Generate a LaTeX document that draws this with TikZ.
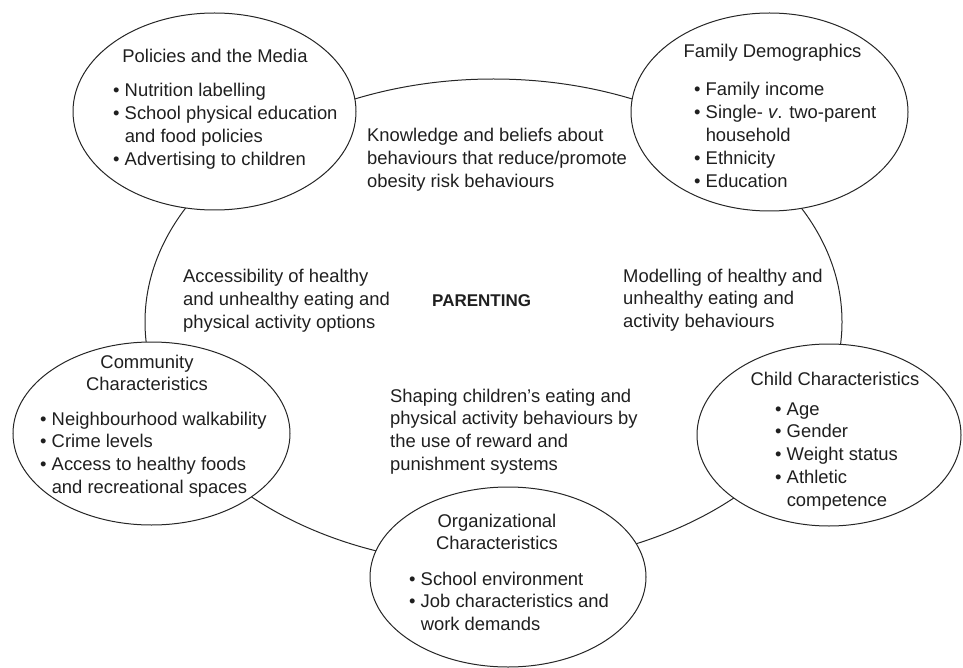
\documentclass[tikz,border=0pt]{standalone}
\usepackage{fontspec}
\setmainfont{Liberation Sans}
\usetikzlibrary{shapes.geometric}
\newcommand{\bl}{\textbullet\ }
\newcommand{\bi}{\phantom{\textbullet\ }}
\begin{document}
\begin{tikzpicture}[x=1pt,y=-1pt,
  ell/.style={draw=black!85, ellipse, line width=1pt, inner sep=0pt},
  fillell/.style={ell, fill=white},
  txt/.style={inner sep=0pt, anchor=base west, text=black!88,
    font=\fontsize{18.4}{22.8}\selectfont},
  ttl/.style={inner sep=0pt, anchor=base, text=black!88,
    font=\fontsize{18.4}{22.8}\selectfont}]
\useasboundingbox (0,0) rectangle (963,668);
% central ring
\node[ell, minimum width=697pt, minimum height=486pt] (ring) at (493.5,322) {};
% satellite ellipses
\node[fillell, minimum width=283pt, minimum height=197pt] (pol) at (214.5,111.5) {};
\node[fillell, minimum width=277pt, minimum height=198pt] (fam) at (769.5,112) {};
\node[fillell, minimum width=277pt, minimum height=183pt] (com) at (151.5,433.5) {};
\node[fillell, minimum width=264pt, minimum height=182pt] (chi) at (829,435) {};
\node[fillell, minimum width=276pt, minimum height=180pt] (org) at (508,577) {};
% Policies
\node[ttl] (polt) at (215,63) {Policies and the Media};
\node[txt] (poll) at (113,97) {\begin{tabular}[t]{@{}l@{}}
\bl Nutrition labelling\\
\bl School physical education\\
\bi and food policies\\
\bl Advertising to children\end{tabular}};
% Family
\node[ttl] (famt) at (772.5,58) {Family Demographics};
\node[txt] (faml) at (694,96) {\begin{tabular}[t]{@{}l@{}}
\bl Family income\\
\bl Single- \textit{v}. two-parent\\
\bi household\\
\bl Ethnicity\\
\bl Education\end{tabular}};
% Community
\node[ttl] (comt) at (147,368) {\begin{tabular}[t]{@{}c@{}}Community\\Characteristics\end{tabular}};
\node[txt] (coml) at (40,425) {\begin{tabular}[t]{@{}l@{}}
\bl Neighbourhood walkability\\
\bl Crime levels\\
\bl Access to healthy foods\\
\bi and recreational spaces\end{tabular}};
% Child
\node[ttl] (chit) at (835,385) {Child Characteristics};
\node[txt] (chil) at (775,415) {\begin{tabular}[t]{@{}l@{}}
\bl Age\\
\bl Gender\\
\bl Weight status\\
\bl Athletic\\
\bi competence\end{tabular}};
% Organizational
\node[ttl] (orgt) at (497,527) {\begin{tabular}[t]{@{}c@{}}Organizational\\Characteristics\end{tabular}};
\node[txt] (orgl) at (409,585) {\begin{tabular}[t]{@{}l@{}}
\bl School environment\\
\bl Job characteristics and\\
\bi work demands\end{tabular}};
% central texts
\node[txt] (know) at (367,142) {\begin{tabular}[t]{@{}l@{}}
Knowledge and beliefs about\\
behaviours that reduce/promote\\
obesity risk behaviours\end{tabular}};
\node[txt] (acc) at (183,283) {\begin{tabular}[t]{@{}l@{}}
Accessibility of healthy\\
and unhealthy eating and\\
physical activity options\end{tabular}};
\node[txt] (mod) at (623,282) {\begin{tabular}[t]{@{}l@{}}
Modelling of healthy and\\
unhealthy eating and\\
activity behaviours\end{tabular}};
\node[txt] (shap) at (390,402) {\begin{tabular}[t]{@{}l@{}}
Shaping children’s eating and\\
physical activity behaviours by\\
the use of reward and\\
punishment systems\end{tabular}};
\node[inner sep=0pt, anchor=base west, text=black!88,
  font=\fontsize{17}{20}\selectfont\bfseries] (par) at (432,306) {PARENTING};
\end{tikzpicture}
\end{document}
